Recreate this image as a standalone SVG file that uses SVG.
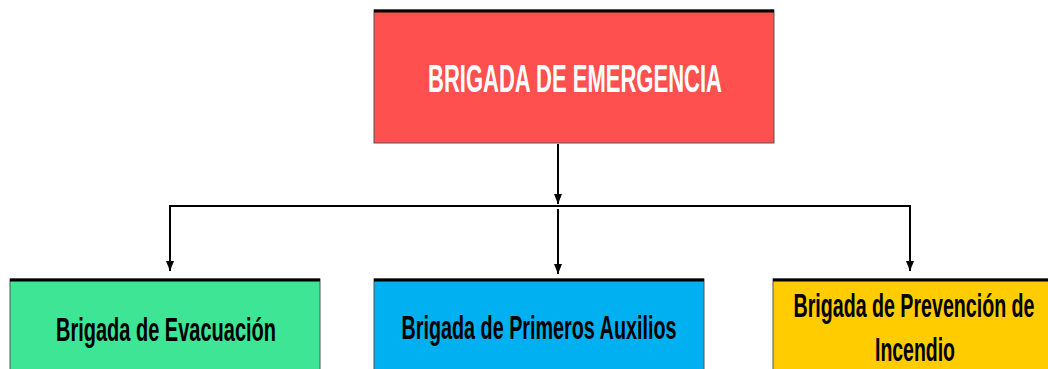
<svg xmlns="http://www.w3.org/2000/svg" width="1048" height="369" viewBox="0 0 1048 369">
<style>
.box{stroke:#555;stroke-width:1}
.top{stroke:#000;stroke-width:3}
.t{font-family:"Liberation Sans",Arial,sans-serif;font-weight:bold;text-anchor:middle}
.c{fill:none;stroke:#000;stroke-width:2}
</style>
<defs>
<marker id="ah" viewBox="0 0 10 10" refX="10" refY="5" markerWidth="10" markerHeight="10" markerUnits="userSpaceOnUse" orient="auto">
<path d="M0,1 L10,5 L0,9 z" fill="#000"/>
</marker>
</defs>
<rect width="1048" height="369" fill="#fff"/>
<g id="connectors">
<line class="c" x1="558" y1="144" x2="558" y2="204" marker-end="url(#ah)"/>
<path class="c" d="M910,271 V206 H170 V271" marker-end="url(#ah)"/>
<line class="c" x1="910" y1="207" x2="910" y2="271" marker-end="url(#ah)"/>
<line class="c" x1="558" y1="209" x2="558" y2="274" marker-end="url(#ah)"/>
</g>
<g id="node-emergencia">
<rect class="box" x="374" y="10" width="400" height="133" fill="#FF5050"/>
<line class="top" x1="374" y1="11" x2="774" y2="11"/>
<text class="t" x="575" y="92" font-size="38" fill="#fff" textLength="294" lengthAdjust="spacingAndGlyphs">BRIGADA DE EMERGENCIA</text>
</g>
<g id="node-evacuacion">
<rect class="box" x="10" y="279" width="310" height="120" fill="#3DE594"/>
<line class="top" x1="10" y1="280" x2="320" y2="280"/>
<text class="t" x="166" y="341" font-size="33" fill="#000" textLength="220" lengthAdjust="spacingAndGlyphs">Brigada de Evacuación</text>
</g>
<g id="node-auxilios">
<rect class="box" x="374" y="279" width="330" height="120" fill="#00B0F0"/>
<line class="top" x1="374" y1="280" x2="704" y2="280"/>
<text class="t" x="539" y="339" font-size="33" fill="#000" textLength="275" lengthAdjust="spacingAndGlyphs">Brigada de Primeros Auxilios</text>
</g>
<g id="node-incendio">
<rect class="box" x="773" y="279" width="300" height="120" fill="#FFCC00"/>
<line class="top" x1="773" y1="280" x2="1073" y2="280"/>
<text class="t" x="914" y="317" font-size="33" fill="#000" textLength="241" lengthAdjust="spacingAndGlyphs">Brigada de Prevención de</text>
<text class="t" x="915" y="361" font-size="33" fill="#000" textLength="80" lengthAdjust="spacingAndGlyphs">Incendio</text>
</g>
</svg>
